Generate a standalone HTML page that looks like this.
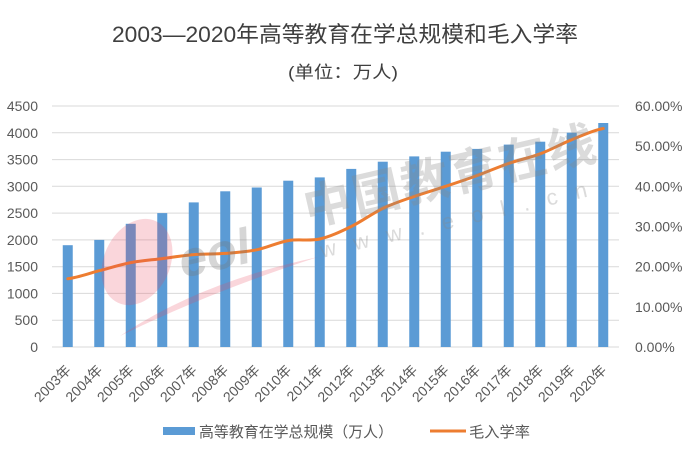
<!DOCTYPE html>
<html><head><meta charset="utf-8"><style>
html,body{margin:0;padding:0;background:#fff;}
svg{display:block;}
text{font-family:"Liberation Sans","Noto Sans CJK SC",sans-serif;}
</style></head><body>
<svg width="688" height="449" viewBox="0 0 688 449" xmlns="http://www.w3.org/2000/svg">
<rect width="688" height="449" fill="#fff"/>
<text x="112" y="42" font-size="22" fill="#3f3f3f" textLength="466" lengthAdjust="spacingAndGlyphs">2003—2020年高等教育在学总规模和毛入学率</text>
<text x="288" y="78" font-size="17" fill="#3f3f3f" textLength="110" lengthAdjust="spacingAndGlyphs">(单位：万人)</text>
<g stroke="#d9d9d9" stroke-width="1">
<line x1="52" x2="619" y1="106" y2="106"/>
<line x1="52" x2="619" y1="132.8" y2="132.8"/>
<line x1="52" x2="619" y1="159.6" y2="159.6"/>
<line x1="52" x2="619" y1="186.3" y2="186.3"/>
<line x1="52" x2="619" y1="213.1" y2="213.1"/>
<line x1="52" x2="619" y1="239.9" y2="239.9"/>
<line x1="52" x2="619" y1="266.7" y2="266.7"/>
<line x1="52" x2="619" y1="293.4" y2="293.4"/>
<line x1="52" x2="619" y1="320.2" y2="320.2"/>
<line x1="52" x2="619" y1="347" y2="347"/>
</g>
<g font-size="14" fill="#595959" text-anchor="end">
<text x="38" y="111">4500</text>
<text x="38" y="138">4000</text>
<text x="38" y="164.6">3500</text>
<text x="38" y="191.3">3000</text>
<text x="38" y="218.1">2500</text>
<text x="38" y="244.9">2000</text>
<text x="38" y="271.7">1500</text>
<text x="38" y="298.4">1000</text>
<text x="38" y="325.2">500</text>
<text x="38" y="352">0</text>
</g>
<g font-size="14" fill="#595959">
<text x="635" y="111">60.00%</text>
<text x="635" y="151.2">50.00%</text>
<text x="635" y="191.3">40.00%</text>
<text x="635" y="231.5">30.00%</text>
<text x="635" y="271.7">20.00%</text>
<text x="635" y="311.8">10.00%</text>
<text x="635" y="352">0.00%</text>
</g>
<g fill="#5B9BD5">
<rect x="62.75" y="245.2" width="10" height="101.8"/>
<rect x="94.25" y="239.9" width="10" height="107.1"/>
<rect x="125.75" y="223.8" width="10" height="123.2"/>
<rect x="157.25" y="213.1" width="10" height="133.9"/>
<rect x="188.75" y="202.4" width="10" height="144.6"/>
<rect x="220.25" y="191.3" width="10" height="155.7"/>
<rect x="251.75" y="187.5" width="10" height="159.5"/>
<rect x="283.25" y="180.7" width="10" height="166.3"/>
<rect x="314.75" y="177.4" width="10" height="169.6"/>
<rect x="346.25" y="168.9" width="10" height="178.1"/>
<rect x="377.75" y="161.7" width="10" height="185.3"/>
<rect x="409.25" y="156.4" width="10" height="190.6"/>
<rect x="440.75" y="151.7" width="10" height="195.3"/>
<rect x="472.25" y="148.9" width="10" height="198.1"/>
<rect x="503.75" y="144.6" width="10" height="202.4"/>
<rect x="535.25" y="141.7" width="10" height="205.3"/>
<rect x="566.75" y="132.7" width="10" height="214.3"/>
<rect x="598.25" y="123" width="10" height="224"/>
</g>
<path fill="none" stroke="#ED7D31" stroke-width="3" stroke-linejoin="round" stroke-linecap="round"
d="M67.75,278.7 C78.25,277.37 88.75,273.38 99.25,270.7 C109.75,268.02 120.25,264.62 130.75,262.6 C141.25,260.58 151.75,259.93 162.25,258.6 C172.75,257.27 183.25,255.47 193.75,254.6 C204.25,253.73 214.75,254.2 225.25,253.4 C235.75,252.6 246.25,251.93 256.75,249.8 C267.25,247.67 277.75,242.4 288.25,240.6 C298.75,238.8 309.25,241.35 319.75,239 C330.25,236.65 340.75,231.6 351.25,226.5 C361.75,221.4 372.25,213.42 382.75,208.4 C393.25,203.38 403.75,200.08 414.25,196.4 C424.75,192.72 435.25,189.78 445.75,186.3 C456.25,182.82 466.75,179.32 477.25,175.5 C487.75,171.68 498.25,167.02 508.75,163.4 C519.25,159.78 529.75,157.75 540.25,153.8 C550.75,149.85 561.25,143.92 571.75,139.7 C582.25,135.48 592.75,130.37 603.25,128.5"/>
<ellipse cx="137" cy="262" rx="33" ry="45" transform="rotate(25 137 262)" fill="rgb(232,70,90)" fill-opacity="0.22"/>
<path d="M120,336 Q200,282 318,257 Q210,292 120,336 Z" fill="rgb(232,70,90)" fill-opacity="0.22"/>
<text x="183" y="278" font-size="50" font-weight="bold" font-style="italic" fill="#777" fill-opacity="0.3" transform="rotate(-13 183 278)">eol</text>
<text x="308" y="226" font-size="48" font-weight="bold" fill="#888" fill-opacity="0.3" letter-spacing="2" transform="rotate(-13 308 226)">中国教育在线</text>
<text x="322" y="258" font-size="22" fill="#888" fill-opacity="0.3" letter-spacing="18" transform="rotate(-13 322 258)">www.eol.cn</text>
<g font-size="14" fill="#595959" text-anchor="end">
<text transform="translate(71.75,371) rotate(-45)">2003年</text>
<text transform="translate(103.25,371) rotate(-45)">2004年</text>
<text transform="translate(134.75,371) rotate(-45)">2005年</text>
<text transform="translate(166.25,371) rotate(-45)">2006年</text>
<text transform="translate(197.75,371) rotate(-45)">2007年</text>
<text transform="translate(229.25,371) rotate(-45)">2008年</text>
<text transform="translate(260.75,371) rotate(-45)">2009年</text>
<text transform="translate(292.25,371) rotate(-45)">2010年</text>
<text transform="translate(323.75,371) rotate(-45)">2011年</text>
<text transform="translate(355.25,371) rotate(-45)">2012年</text>
<text transform="translate(386.75,371) rotate(-45)">2013年</text>
<text transform="translate(418.25,371) rotate(-45)">2014年</text>
<text transform="translate(449.75,371) rotate(-45)">2015年</text>
<text transform="translate(481.25,371) rotate(-45)">2016年</text>
<text transform="translate(512.75,371) rotate(-45)">2017年</text>
<text transform="translate(544.25,371) rotate(-45)">2018年</text>
<text transform="translate(575.75,371) rotate(-45)">2019年</text>
<text transform="translate(607.25,371) rotate(-45)">2020年</text>
</g>
<rect x="163" y="427" width="32" height="8" fill="#5B9BD5"/>
<text x="199" y="437" font-size="15" fill="#595959" textLength="194" lengthAdjust="spacingAndGlyphs">高等教育在学总规模（万人）</text>
<line x1="430" x2="466" y1="431" y2="431" stroke="#ED7D31" stroke-width="3"/>
<text x="469" y="437" font-size="15" fill="#595959" textLength="61" lengthAdjust="spacingAndGlyphs">毛入学率</text>
</svg>
</body></html>
